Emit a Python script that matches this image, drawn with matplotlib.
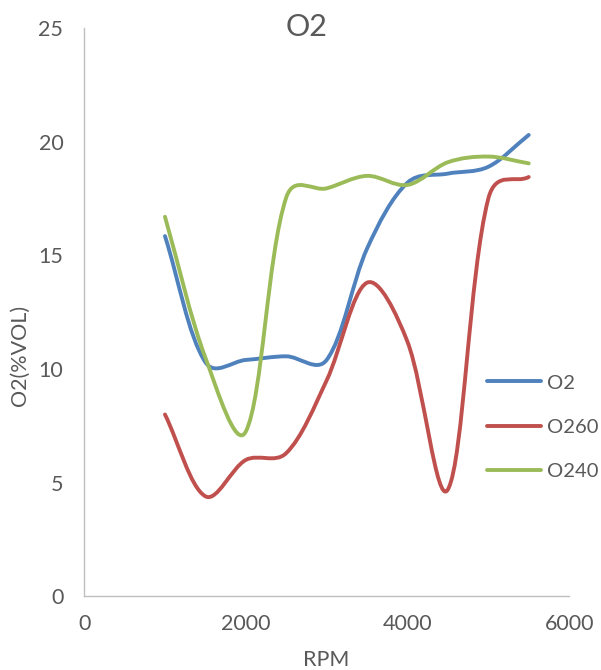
import numpy as np
import matplotlib
matplotlib.use("Agg")
import matplotlib.pyplot as plt
from matplotlib.path import Path
from matplotlib.patches import PathPatch
from matplotlib.lines import Line2D

plt.rcParams['font.family'] = ['Lato', 'DejaVu Sans']

rpm = [1000, 1500, 2000, 2500, 3000, 3500, 4000, 4500, 5000, 5500]
o2 = [15.85, 10.3, 10.4, 10.56, 10.4, 15.3, 18.2, 18.6, 18.9, 20.3]
o260 = [8.0, 4.4, 6.0, 6.3, 9.5, 13.8, 11.2, 4.7, 17.5, 18.45]
o240 = [16.7, 10.5, 7.25, 17.55, 17.95, 18.5, 18.1, 19.1, 19.35, 19.05]

names = ['O2', 'O260', 'O240']
colors = ['#4F81BD', '#C0504D', '#9BBB59']
grey = '#595959'


def smooth_path(ax, x, y):
    # excel-like smoothed line: bezier segments, control arms weighted by
    # the on-screen length of the neighbouring segments
    pts = ax.transData.transform(np.column_stack([x, y]))
    n = len(pts)
    verts = [pts[0]]
    codes = [Path.MOVETO]
    for i in range(n - 1):
        p0, p1 = pts[max(i - 1, 0)], pts[i]
        p2, p3 = pts[i + 1], pts[min(i + 2, n - 1)]
        d01 = np.sqrt(np.hypot(*(p1 - p0)))
        d12 = np.sqrt(np.hypot(*(p2 - p1)))
        d23 = np.sqrt(np.hypot(*(p3 - p2)))
        c1 = p1 + (p2 - p0) / 3.0 * d12 / (d01 + d12)
        c2 = p2 - (p3 - p1) / 3.0 * d12 / (d12 + d23)
        verts += [c1, c2, p2]
        codes += [Path.CURVE4] * 3
    verts = ax.transData.inverted().transform(np.array(verts))
    return Path(verts, codes)


fig = plt.figure(figsize=(6.01, 6.70), dpi=100)
ax = fig.add_axes([0.14, 0.11, 0.807, 0.848])
ax.set_xlim(0, 6000)
ax.set_ylim(0, 25)

handles = []
for vals, name, c in zip([o2, o260, o240], names, colors):
    patch = PathPatch(smooth_path(ax, rpm, vals), fill=False, edgecolor=c,
                      lw=2.8, capstyle='round', joinstyle='round')
    ax.add_patch(patch)
    handles.append(Line2D([], [], color=c, lw=2.8, solid_capstyle='round', label=name))

ax.set_xticks([0, 2000, 4000, 6000])
ax.set_yticks([0, 5, 10, 15, 20, 25])
ax.tick_params(length=0, labelsize=15.5, labelcolor=grey)
ax.tick_params(axis='x', pad=13)
ax.tick_params(axis='y', pad=15)
for s in ['top', 'right']:
    ax.spines[s].set_visible(False)
for s in ['left', 'bottom']:
    ax.spines[s].set_color('#BFBFBF')
    ax.spines[s].set_linewidth(1)

fig.text(326 / 601, 1 - 660 / 670, 'RPM', fontsize=15.5, color=grey,
         ha='center', va='center')
fig.text(20 / 601, 1 - 355 / 670, 'O2(%VOL)', fontsize=15.5, color=grey,
         ha='center', va='center', rotation=90)
fig.text(307 / 601, 1 - 27 / 670, 'O2', fontsize=22, color=grey,
         ha='center', va='center')

ax.legend(handles=handles, loc='center left', bbox_to_anchor=(0.815, 0.2975),
          frameon=False, fontsize=14.5, labelcolor=grey, handlelength=2.64,
          handletextpad=0.3, labelspacing=1.35, borderpad=0.4, borderaxespad=0)

fig.savefig('out.png', dpi=100)
